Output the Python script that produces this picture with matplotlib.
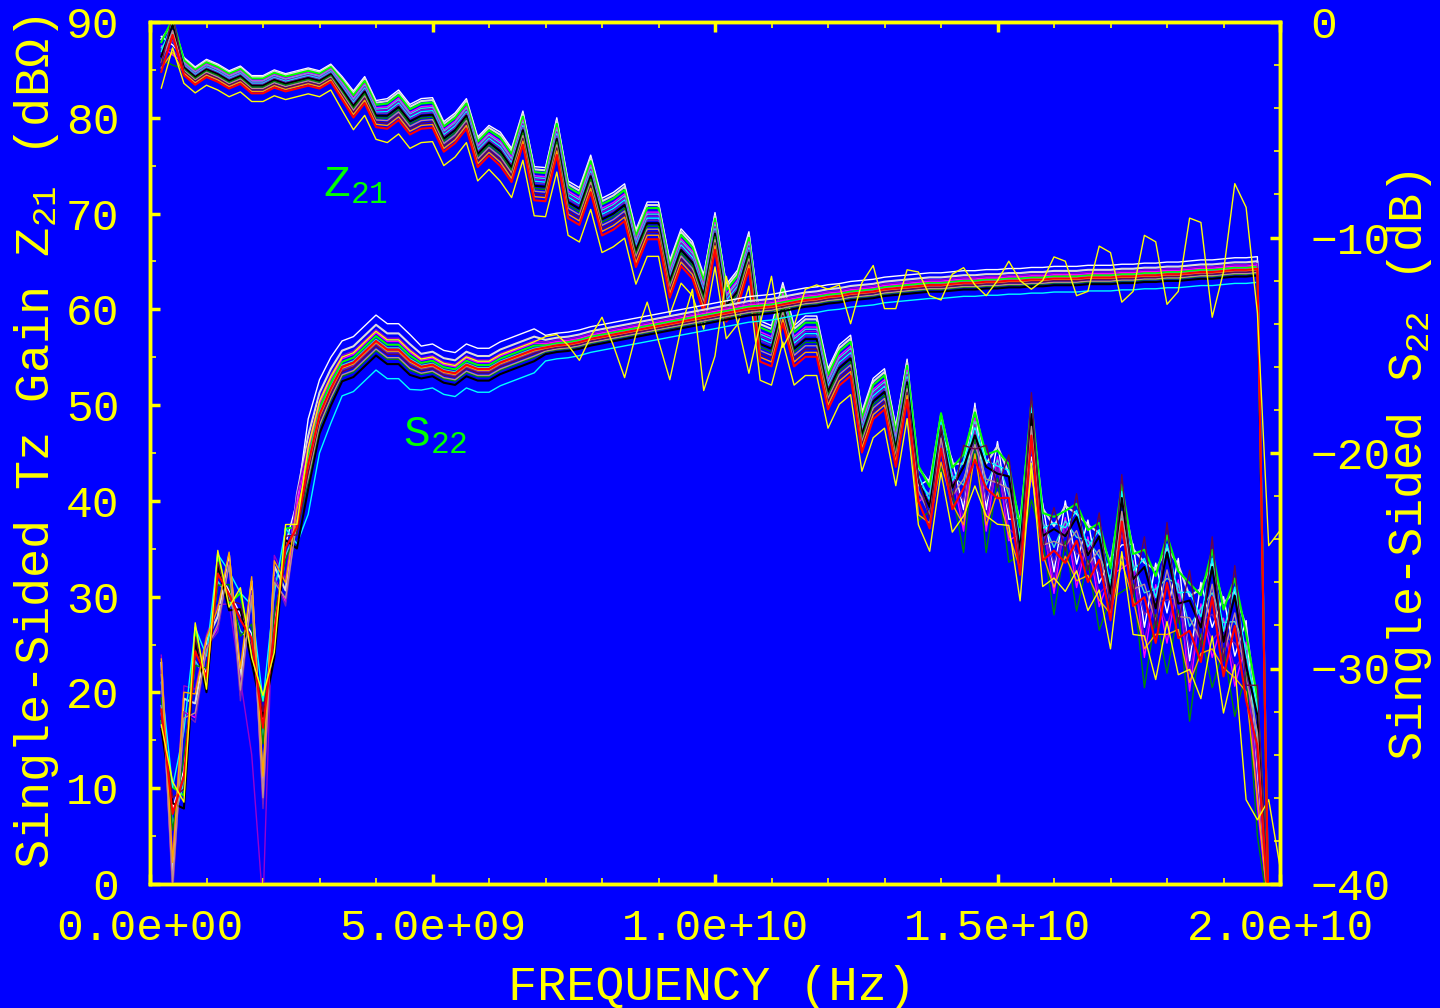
import numpy as np
import matplotlib
matplotlib.use('Agg')
import matplotlib.pyplot as plt
from matplotlib.ticker import MultipleLocator, FuncFormatter

plt.rcParams['font.family'] = ['Liberation Mono', 'DejaVu Sans Mono']
plt.rcParams['mathtext.fontset'] = 'custom'
plt.rcParams['mathtext.rm'] = 'Liberation Mono'
plt.rcParams['mathtext.it'] = 'Liberation Mono'
plt.rcParams['mathtext.default'] = 'regular'

YEL = '#ffff00'
BG = '#0000ff'

# sweep: 0.2 GHz .. 20 GHz in 0.2 GHz steps
freq = np.arange(1, 101) * 0.2e9

# transimpedance gain, centre of the bundle (dB-ohm)
z21_mid = [86.5, 88.5, 85.3, 84.3, 85.1, 84.6, 83.9, 84.4, 83.4, 83.4,
           84.0, 83.6, 83.9, 84.2, 83.9, 84.6, 83.0, 81.3, 82.8, 80.3,
           80.3, 81.2, 79.7, 80.3, 80.4, 77.9, 78.8, 80.3, 76.3, 77.5,
           76.6, 74.9, 78.8, 73.0, 72.9, 77.9, 71.3, 70.6, 74.0, 69.5,
           70.1, 71.0, 66.2, 69.1, 69.1, 63.0, 66.3, 65.0, 61.5, 68.0,
           60.5, 62.0, 66.0, 56.5, 56.0, 60.5, 56.0, 57.0, 57.0, 51.5,
           54.0, 55.0, 47.0, 50.5, 51.5, 45.5, 52.5, 41.0, 39.5, 46.5,
           41.5, 41.0, 47.0, 41.0, 43.0, 40.0, 35.0, 46.5, 36.5, 34.5,
           36.5, 35.5, 34.5, 33.5, 30.5, 37.5, 32.0, 29.5, 29.0, 31.0,
           29.5, 26.0, 27.0, 29.5, 25.5, 26.5, 23.0, 14.0, -3.0, -3.0]
# half width of the bundle and how much the traces cross each other
z21_half = np.repeat([2.0, 1.5, 1.0, 1.3, 1.5, 1.7, 1.9, 2.1, 2.3, 2.8, 3.2, 3.5, 4.5, 0.0],
                     [1, 1, 14, 1, 3, 10, 5, 18, 14, 4, 9, 7, 11, 2])
z21_mix = np.repeat([1.0, 0.0, 0.5, 1.0, 0.0], [2, 65, 4, 27, 2])

# output return loss, centre of the bundle (dB)
s22_mid = [-31.0, -38.0, -33.5, -30.3, -29.7, -26.5, -25.8, -29.0, -27.5, -34.0,
           -27.0, -25.3, -23.1, -20.5, -18.2, -17.0, -16.0, -15.8, -15.3, -14.8,
           -15.2, -15.2, -15.7, -16.0, -15.9, -16.2, -16.3, -15.9, -16.1, -16.1,
           -15.8, -15.6, -15.4, -15.2, -15.1, -15.0, -14.95, -14.85, -14.7, -14.6,
           -14.5, -14.4, -14.3, -14.2, -14.1, -14.0, -13.9, -13.8, -13.7, -13.6,
           -13.5, -13.4, -13.3, -13.25, -13.2, -13.1, -13.0, -12.9, -12.85, -12.75,
           -12.7, -12.6, -12.55, -12.5, -12.4, -12.35, -12.3, -12.25, -12.2, -12.2,
           -12.15, -12.1, -12.1, -12.05, -12.05, -12.0, -12.0, -11.95, -11.95, -11.9,
           -11.9, -11.9, -11.85, -11.85, -11.85, -11.8, -11.8, -11.75, -11.75, -11.7,
           -11.7, -11.65, -11.6, -11.6, -11.55, -11.5, -11.5, -11.45, -42.0, -42.0]
s22_half = np.concatenate([[1.8, 2.5, 3.0, 2.2, 1.4, 1.8, 1.5, 2.5, 2.2, 2.5,
                            2.5, 1.8, 1.4, 1.3, 1.0, 0.9],
                           np.repeat([0.75, 0.6, 0.35, 0.0], [7, 11, 64, 2])])
s22_mix = np.repeat([1.0, 0.5, 0.0], [12, 1, 87])

# one colour per device, xmgrace palette
colors = ['#ffffff', '#dcdcdc', '#00ff00', '#ff00ff', '#40e0d0', '#9400d3',
          '#00ffff', '#7221bc', '#000000', '#008b00', '#bc8f8f', '#670748',
          '#ffa500', '#ff0000', '#ffff00']
widths = [1.0, 1.5, 1.5, 1.0, 1.0, 1.0, 1.0, 1.0, 1.5, 1.0, 1.0, 1.0, 1.0, 1.5, 1.0]

# where each device sits inside the bundle (+1 top, -1 bottom)
z21_pos = [1.0, 0.85, 0.7, 0.5, 0.4, 0.3, 0.2, 0.1, -0.05, -0.2, -0.35, -0.5, -0.65, -0.85, -1.7]
z21_alt = [-0.6, 0.9, 1.2, -1.3, 0.2, -0.9, 1.0, -0.3, 0.8, -2.0, 0.4, 1.5, -1.1, 0.1, -0.8]
s22_pos = [1.6, 1.0, 0.3, 0.5, 0.1, 0.7, -1.8, -0.2, -0.9, -0.6, -0.5, -0.3, -0.1, 0.0, 0.6]
s22_alt = [0.6, -0.6, 1.0, -0.9, 0.3, -0.3, 1.0, -1.0, 0.7, 0.2, -0.8, 0.8, -0.4, 0.5, 1.1]
s22_alt2 = [-0.4, 0.7, -0.8, 0.5, -0.6, 0.9, 0.2, 0.5, -1.0, -0.2, 0.4, -0.7, 0.8, -0.5, -0.9]

# devices that leave the bundle
z21_yellow_end = [8.8, 6.7, 8.8, 1.8]                 # 19.4 .. 20.0 GHz
s22_violet_dip = [-27.0, -30.5, -34.0, -41.0]          # 1.4 .. 2.0 GHz
s22_yellow_hf = [-14.6, -14.5, -15.0, -15.7, -14.6, -13.7, -15.0, -16.5, -14.5, -13.0,
                 -14.8, -16.6, -14.2, -12.4, -17.1, -15.5, -11.8, -14.0, -16.3, -14.0,
                 -11.8, -15.1, -14.1, -12.4, -12.2, -12.4, -12.2, -14.0, -12.1, -11.3,
                 -13.3, -13.3, -11.5, -11.6, -12.7, -12.9, -11.7, -11.4, -12.2, -12.7,
                 -12.0, -11.1, -12.0, -12.4, -12.0, -10.9, -11.1, -12.7, -12.5, -10.4,
                 -10.7, -13.0, -12.5, -9.9, -10.2, -13.1, -12.5, -9.1, -9.3, -13.7,
                 -11.6, -7.5, -8.6, -13.5, -24.3, -23.6]   # 7.0 .. 20.0 GHz


def build(mid, half, mix, pos, alt_odd, alt_even):
    mid = np.asarray(mid, dtype=float)
    idx = np.arange(len(mid))
    target = np.where(idx % 2 == 1, alt_odd, alt_even)
    p = pos + mix * (target - pos)
    return mid + half * p


fig = plt.figure(figsize=(14.4, 10.08), dpi=100, facecolor=BG)
ax = fig.add_axes([150 / 1440, 1 - 884 / 1008, 1130 / 1440, 862 / 1008])
ax.set_facecolor(BG)
ax2 = ax.twinx()

for k, c in enumerate(colors):
    z = build(z21_mid, z21_half, z21_mix, z21_pos[k], z21_alt[k], z21_pos[k])
    s = build(s22_mid, s22_half, s22_mix, s22_pos[k], s22_alt[k], s22_alt2[k])
    if c == '#ffff00':
        z[96:] = z21_yellow_end
        s[34:] = s22_yellow_hf
    if c == '#9400d3':
        s[6:10] = s22_violet_dip
    ax.plot(freq, z, color=c, lw=widths[k])
    ax2.plot(freq, s, color=c, lw=widths[k])

ax.set_xlim(0, 2.0e10)
ax.set_ylim(0, 90)
ax2.set_ylim(-40, 0)

ax.xaxis.set_major_locator(MultipleLocator(5e9))
ax.xaxis.set_minor_locator(MultipleLocator(1e9))
ax.xaxis.set_major_formatter(FuncFormatter(lambda v, p: '%.1e' % v))
ax.yaxis.set_major_locator(MultipleLocator(10))
ax.yaxis.set_minor_locator(MultipleLocator(5))
ax2.yaxis.set_major_locator(MultipleLocator(10))
ax2.yaxis.set_minor_locator(MultipleLocator(2))

ax.tick_params(axis='x', which='both', direction='in', top=True, bottom=True,
               colors=YEL, labelsize=32, pad=17)
ax.tick_params(axis='y', which='both', direction='in', left=True, right=False,
               colors=YEL, labelsize=32, pad=22)
ax2.tick_params(axis='y', which='both', direction='in', left=False, right=True,
                colors=YEL, labelsize=32, pad=22)
for a in (ax, ax2):
    a.tick_params(which='major', length=7, width=2.5)
    a.tick_params(which='minor', length=4, width=1.2)
    for sp in a.spines.values():
        sp.set_color(YEL)
        sp.set_linewidth(2.5)

fig.text(712 / 1440, 1 - 987 / 1008, 'FREQUENCY (Hz)', color=YEL, fontsize=35,
         ha='center', va='center')
fig.text(37 / 1440, 1 - 442 / 1008, r'Single-Sided Tz Gain Z$_{21}$ (dBΩ)', color=YEL,
         fontsize=35, ha='center', va='center', rotation=90)
fig.text(1410 / 1440, 1 - 466 / 1008, r'Single-Sided S$_{22}$ (dB)', color=YEL,
         fontsize=35, ha='center', va='center', rotation=90)

ax.text(3.06e9, 71.8, r'Z$_{21}$', color='#00ff00', fontsize=32, va='baseline')
ax.text(4.48e9, 45.6, r'S$_{22}$', color='#00ff00', fontsize=32, va='baseline')

fig.savefig('out.png', dpi=100, facecolor=BG)
